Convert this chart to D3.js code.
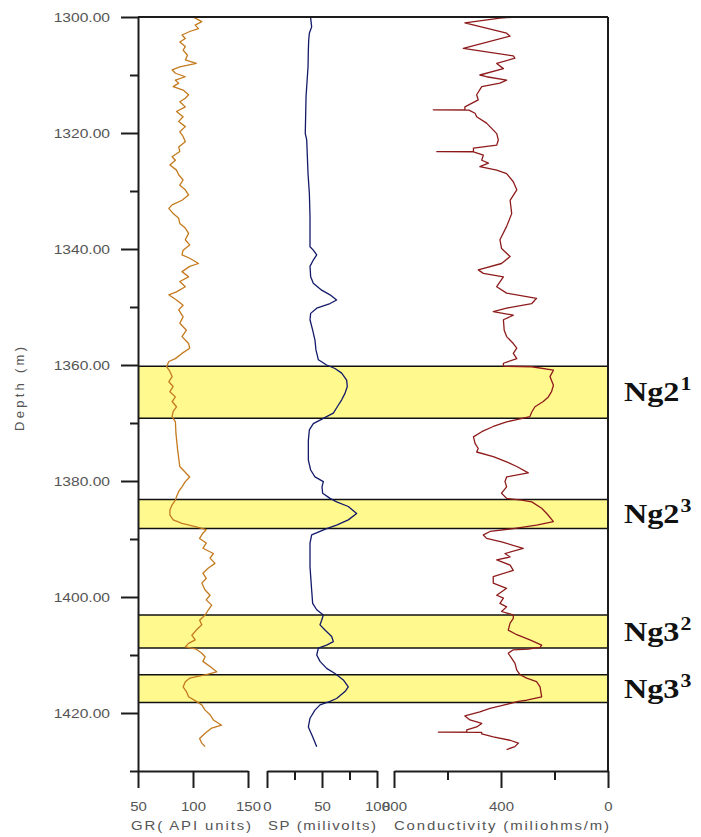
<!DOCTYPE html>
<html>
<head>
<meta charset="utf-8">
<script src="https://cdn.jsdelivr.net/npm/d3@7"></script>
<style>
  html, body { margin: 0; padding: 0; background: #fff; }
  svg { display: block; }
</style>
</head>
<body>
<svg id="chart" width="701" height="837"></svg>
<script>
// Well log panel: gamma ray, spontaneous potential and conductivity against depth,
// with the interpreted sand zones shaded.

const depthTicks = [1300, 1320, 1340, 1360, 1380, 1400, 1420];
const depthMinor = [1310, 1330, 1350, 1370, 1390, 1410, 1430];

const grTicks = [50, 100, 150];
const spTicks = [0, 50, 100];
const spMinor = [25, 75];
const condTicks = [800, 400, 0];
const condMinor = [600, 200];

const zoneNames = ["Ng2", "Ng2", "Ng3", "Ng3"];
const zoneSup = ["1", "3", "2", "3"];
const zoneTop = [1360.2, 1383.2, 1403.1, 1413.4];
const zoneBase = [1369.2, 1388.2, 1408.8, 1418.2];

// [depth (m), GR (API)]
const grLog = [
  [1300.0,100],[1300.2,102],[1300.8,108],[1301.4,102],[1302.0,105],[1302.5,97],[1303.1,90],[1303.7,93],
  [1304.3,88],[1305.1,93],[1305.7,91],[1306.6,95],[1307.4,93],[1308.0,103],[1308.6,88],[1309.1,81],
  [1309.7,84],[1310.3,93],[1310.9,84],[1311.4,87],[1312.0,82],[1312.6,91],[1313.4,96],[1314.0,93],
  [1314.6,88],[1315.5,93],[1316.3,85],[1317.2,91],[1318.0,87],[1318.9,93],[1319.8,88],[1320.6,91],
  [1321.5,93],[1322.4,87],[1323.2,88],[1324.1,81],[1324.7,84],[1325.5,79],[1326.4,85],[1327.2,87],
  [1328.1,91],[1329.0,88],[1329.8,93],[1330.7,96],[1331.6,90],[1332.4,81],[1333.0,78],[1333.9,82],
  [1334.7,87],[1335.6,88],[1336.4,93],[1337.3,96],[1338.4,93],[1339.3,97],[1340.2,91],[1341.0,90],
  [1341.6,97],[1342.5,105],[1343.0,97],[1343.9,90],[1344.8,96],[1345.6,88],[1346.5,93],[1347.4,85],
  [1347.9,78],[1348.8,85],[1349.7,91],[1350.5,87],[1351.7,91],[1352.8,88],[1354.0,94],[1355.1,90],
  [1356.3,96],[1357.1,97],[1358.0,90],[1358.9,84],[1359.4,78],[1360.3,76],[1361.1,79],[1362.0,81],
  [1362.9,78],[1363.7,82],[1364.6,79],[1365.5,84],[1366.3,81],[1367.2,85],[1368.0,82],[1368.9,81],
  [1369.8,84],[1371.8,84.5],[1374.6,86],[1377.5,88],[1378.7,94],[1379.3,97],[1380.1,93],[1381.0,90],
  [1381.8,87],[1382.7,85],[1383.3,84],[1384.1,81],[1385.0,79],[1385.9,79],[1386.7,82],[1387.3,90],
  [1387.9,103],[1388.4,112],[1389.0,109],[1389.9,106],[1390.7,112],[1391.6,109],[1392.5,118.5],[1393.3,115.5],
  [1394.2,120],[1395.0,114],[1395.9,109],[1396.8,112],[1397.6,108],[1398.8,111],[1399.7,115.5],[1400.5,112],
  [1401.4,117],[1402.2,114],[1403.1,111],[1404.0,106],[1404.8,108],[1405.7,103],[1406.6,99],[1407.4,102],
  [1408.0,96],[1408.6,93],[1409.0,103],[1409.7,108],[1410.3,111],[1411.1,109],[1412.0,115.5],[1412.9,121.5],
  [1413.4,112],[1414.0,97],[1414.6,93],[1415.5,91],[1416.3,94],[1417.2,96],[1418.0,103],[1418.6,108],
  [1419.5,111],[1420.3,115.5],[1421.2,118.5],[1422.1,126],[1422.6,117],[1423.5,111],[1424.4,106],[1425.2,108],
  [1425.8,111]
];

// [depth (m), SP (mV)]
const spLog = [
  [1300.0,39.5],[1300.2,39.7],[1301.7,40.6],[1302.8,38.5],[1304.0,37.9],[1305.7,37.6],[1308.6,37.3],[1310.3,36.7],
  [1313.7,35.5],[1320.1,34.8],[1321.2,36.1],[1327.0,37.3],[1330.4,38.5],[1334.4,39.1],[1339.6,39.1],[1340.2,42.1],
  [1341.0,45.2],[1341.9,42.1],[1343.0,39.1],[1344.8,39.7],[1345.9,42.1],[1347.1,49.7],[1347.9,57.3],[1348.8,63.3],
  [1349.4,57.3],[1350.2,45.2],[1351.1,39.7],[1352.2,39.1],[1354.0,41.5],[1355.7,43.6],[1357.4,44.5],[1359.1,46.7],
  [1360.0,54.2],[1360.6,61.8],[1361.4,67.9],[1362.6,72.4],[1363.7,73],[1364.9,70.9],[1366.0,67.9],[1367.2,63.9],
  [1368.3,60.3],[1369.2,51.2],[1370.1,42.1],[1371.2,38.5],[1373.0,37.6],[1376.4,37.6],[1378.1,39.7],[1379.3,43.6],
  [1380.1,51.2],[1381.0,50],[1382.1,50.6],[1383.0,57.3],[1383.6,63.3],[1384.4,73.9],[1385.6,81.5],[1386.7,73.9],
  [1387.6,63.3],[1388.2,54.2],[1388.7,48.2],[1389.3,40.6],[1390.7,39.1],[1394.8,39.1],[1398.8,40.6],[1401.1,41.5],
  [1402.2,45.2],[1403.1,51.2],[1404.0,49.7],[1404.8,48.2],[1405.7,52.7],[1406.8,58.8],[1407.7,60.3],[1408.3,54.2],
  [1408.8,46.7],[1410.0,45.2],[1411.1,48.2],[1412.3,54.2],[1413.2,61.8],[1414.3,69.4],[1415.5,73.9],[1416.3,70.9],
  [1417.5,63.3],[1418.0,57.3],[1418.6,48.2],[1419.5,43.6],[1420.9,39.1],[1422.4,37.6],[1424.1,41.5],[1425.8,45.2]
];

// [depth (m), conductivity (millimhos/m)]
const condLog = [
  [1300.0,341],[1300.2,404],[1301.0,535],[1302.8,379],[1303.3,366],[1305.4,541],[1306.7,354],[1307.1,348],
  [1308.0,416],[1308.9,391],[1310.0,479],[1310.3,454],[1310.9,379],[1311.4,404],[1312.0,472],[1313.4,491],
  [1314.3,485],[1315.5,535],[1316.0,535],[1316.0,653],[1316.05,520],[1316.6,497],[1317.2,491],[1318.3,454],
  [1320.1,416],[1321.2,410],[1322.1,416],[1322.6,503],[1323.2,503],[1323.2,640],[1323.25,503],[1323.8,466],
  [1324.7,472],[1325.2,447],[1325.8,479],[1326.4,416],[1327.0,379],[1328.4,354],[1329.8,341],[1331.6,366],
  [1333.9,360],[1336.1,379],[1338.4,404],[1339.9,398],[1341.3,366],[1342.5,398],[1343.6,485],[1344.2,466],
  [1344.8,391],[1346.5,416],[1347.6,379],[1348.5,267],[1349.4,285],[1350.2,379],[1350.8,429],[1351.4,354],
  [1352.2,391],[1354.0,388],[1355.1,379],[1356.3,354],[1357.1,341],[1358.0,354],[1358.9,341],[1359.7,391],
  [1360.2,391],[1360.3,285],[1360.9,204],[1362.0,217],[1363.5,204],[1364.6,211],[1365.5,223],[1366.3,242],
  [1367.2,273],[1368.1,285],[1368.9,292],[1369.4,341],[1369.8,379],[1370.6,429],[1371.5,472],[1372.4,503],
  [1373.5,497],[1374.4,485],[1375.0,491],[1375.8,429],[1376.7,379],[1377.5,341],[1378.6,298],[1379.3,379],
  [1380.1,385],[1381.0,379],[1382.1,398],[1383.0,379],[1383.3,323],[1383.6,285],[1384.7,248],[1385.6,229],
  [1387.0,204],[1387.6,267],[1388.2,354],[1388.7,441],[1389.3,466],[1389.9,454],[1390.5,398],[1391.6,317],
  [1392.5,385],[1393.1,366],[1393.6,416],[1394.5,366],[1395.4,354],[1396.5,429],[1397.6,429],[1398.5,379],
  [1399.7,416],[1400.2,391],[1401.1,404],[1401.7,379],[1402.5,398],[1403.1,354],[1403.7,354],[1404.5,366],
  [1405.7,373],[1406.5,341],[1407.4,292],[1408.3,248],[1408.7,254],[1409.0,298],[1409.1,354],[1409.7,373],
  [1410.6,360],[1411.4,348],[1412.6,341],[1413.4,329],[1414.0,304],[1414.6,267],[1415.5,254],[1417.2,248],
  [1417.8,304],[1418.0,335],[1418.5,379],[1419.2,441],[1419.8,479],[1420.5,535],[1421.2,516],[1421.8,472],
  [1422.4,491],[1422.9,528],[1423.3,528],[1423.3,634],[1423.35,472],[1423.6,472],[1424.1,429],[1424.7,366],
  [1425.2,335],[1425.8,348],[1426.3,379]
];

const svg = d3.select("#chart");
const sansFont = "'Liberation Sans', Arial, sans-serif";
const serifFont = "'Liberation Serif', 'Times New Roman', serif";
const axisColor = "#1c1c1c";
const labelColor = "#555";

const plotLeft = 138, plotRight = 608, plotTop = 17, plotBottom = 771;

const y = d3.scaleLinear().domain([1300, 1430]).range([plotTop, plotBottom]);
const xGR = d3.scaleLinear().domain([50, 150]).range([138, 248]);
const xSP = d3.scaleLinear().domain([0, 100]).range([267, 377]);
const xCond = d3.scaleLinear().domain([800, 0]).range([394, 608]);

// shaded sand zones
const zones = zoneTop.map((t, i) => ({ top: t, base: zoneBase[i], name: zoneNames[i], sup: zoneSup[i] }));

svg.append("g").selectAll("rect").data(zones).join("rect")
  .attr("x", plotLeft).attr("width", plotRight - plotLeft)
  .attr("y", d => y(d.top)).attr("height", d => y(d.base) - y(d.top))
  .attr("fill", "#fff98e");

const zoneLines = svg.append("g").attr("stroke", "#111").attr("stroke-width", 1.5);
zones.forEach(d => {
  [d.top, d.base].forEach(v => {
    zoneLines.append("line")
      .attr("x1", plotLeft).attr("x2", plotRight)
      .attr("y1", y(v)).attr("y2", y(v));
  });
});

// log curves
function drawCurve(data, xs, color) {
  svg.append("path")
    .datum(data)
    .attr("fill", "none")
    .attr("stroke", color)
    .attr("stroke-width", 1.3)
    .attr("stroke-linejoin", "round")
    .attr("d", d3.line().x(d => xs(d[1])).y(d => y(d[0])));
}
drawCurve(grLog, xGR, "#c47a1e");
drawCurve(spLog, xSP, "#121a6a");
drawCurve(condLog, xCond, "#8e1b1b");

// frame: top and right edges
svg.append("line").attr("x1", plotLeft).attr("x2", plotRight).attr("y1", plotTop).attr("y2", plotTop)
  .attr("stroke", axisColor).attr("stroke-width", 2);
svg.append("line").attr("x1", plotRight).attr("x2", plotRight).attr("y1", plotTop).attr("y2", plotBottom)
  .attr("stroke", axisColor).attr("stroke-width", 2);

function styleAxis(g) {
  g.attr("font-family", sansFont).attr("font-size", 13);
  g.selectAll("path.domain").attr("stroke", axisColor).attr("stroke-width", 2);
  g.selectAll(".tick line").attr("stroke", axisColor).attr("stroke-width", 2);
  g.selectAll(".tick text").attr("fill", labelColor);
}

// depth axis
const yAxisG = svg.append("g").attr("transform", `translate(${plotLeft},0)`)
  .call(d3.axisLeft(y).tickValues(depthTicks).tickFormat(d3.format(".2f"))
    .tickSize(17).tickSizeOuter(0).tickPadding(11))
  .call(styleAxis);
yAxisG.selectAll(".tick text")
  .attr("x", 0)
  .attr("transform", "translate(-28,0) scale(1.2,1)");

svg.append("g").attr("transform", `translate(${plotLeft},0)`)
  .call(d3.axisLeft(y).tickValues(depthMinor).tickFormat("").tickSize(8).tickSizeOuter(0))
  .call(styleAxis)
  .call(g => g.select("path.domain").remove());

// bottom value axes
function valueAxis(scale, majors, minors) {
  const g = svg.append("g").attr("transform", `translate(0,${plotBottom})`)
    .call(d3.axisBottom(scale).tickValues(majors).tickSize(17).tickSizeOuter(0).tickPadding(14))
    .call(styleAxis);
  g.selectAll(".tick text").attr("transform", "scale(1.15,1)");
  if (minors.length) {
    svg.append("g").attr("transform", `translate(0,${plotBottom})`)
      .call(d3.axisBottom(scale).tickValues(minors).tickFormat("").tickSize(9).tickSizeOuter(0))
      .call(styleAxis)
      .call(s => s.select("path.domain").remove());
  }
}
valueAxis(xGR, grTicks, []);
valueAxis(xSP, spTicks, spMinor);
valueAxis(xCond, condTicks, condMinor);

// axis titles
function title(text, x0, width, yBase) {
  svg.append("g").attr("transform", `translate(${x0},${yBase}) scale(1.15,1)`)
    .append("text")
    .attr("x", 0).attr("y", 0)
    .attr("font-family", sansFont).attr("font-size", 13)
    .attr("fill", labelColor)
    .attr("textLength", width / 1.15)
    .attr("lengthAdjust", "spacing")
    .text(text);
}
title("GR( API units)", 131, 120, 830);
title("SP (milivolts)", 268, 108, 830);
title("Conductivity (miliohms/m)", 394, 215, 830);

svg.append("g").attr("transform", "translate(24,389) rotate(-90)")
  .append("text")
  .attr("x", -42).attr("y", 0)
  .attr("font-family", sansFont).attr("font-size", 13)
  .attr("fill", labelColor)
  .attr("textLength", 84).attr("lengthAdjust", "spacing")
  .text("Depth (m)");

// zone names with layer superscripts
zones.forEach(d => {
  const cy = (y(d.top) + y(d.base)) / 2 + 9;
  const t = svg.append("g").attr("transform", `translate(624,${cy}) scale(1.15,1)`)
    .append("text")
    .attr("font-family", serifFont).attr("font-weight", "bold")
    .attr("font-size", 28).attr("fill", "#111");
  t.append("tspan").text(d.name);
  t.append("tspan").attr("dx", 1).attr("dy", -11).attr("font-size", 19).text(d.sup);
});
</script>
</body>
</html>
